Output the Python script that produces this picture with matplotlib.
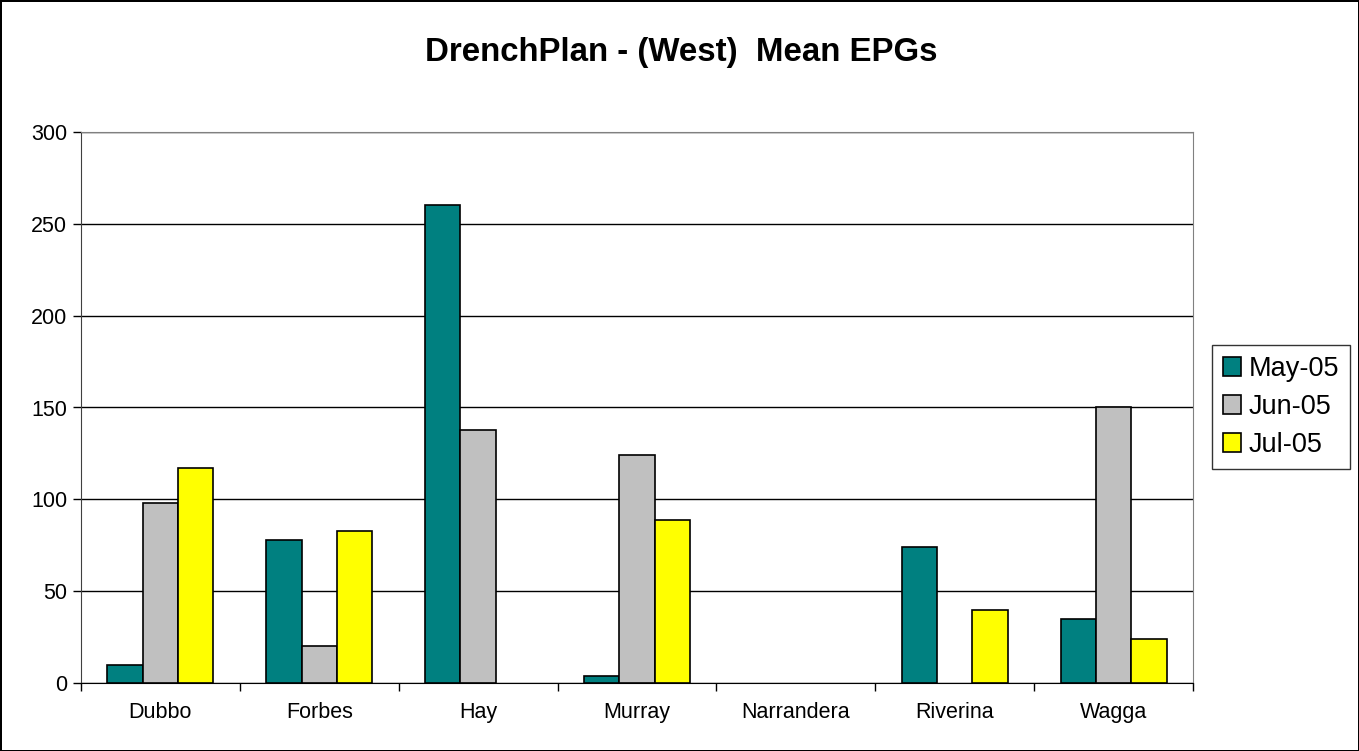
import matplotlib.pyplot as plt
import numpy as np

plt.rcParams['font.family'] = ['Liberation Sans', 'DejaVu Sans']

sites = ['Dubbo', 'Forbes', 'Hay', 'Murray', 'Narrandera', 'Riverina', 'Wagga']
months = ['May-05', 'Jun-05', 'Jul-05']
may_05 = [10, 78, 260, 4, np.nan, 74, 35]
jun_05 = [98, 20, 138, 124, np.nan, np.nan, 150]
jul_05 = [117, 83, np.nan, 89, np.nan, 40, 24]
colors = ['#008080', '#C0C0C0', '#FFFF00']

fig = plt.figure(figsize=(13.59, 7.51), dpi=100)
fig.patch.set_edgecolor('black')
fig.patch.set_linewidth(2)
ax = fig.add_axes([81 / 1359, 1 - 683 / 751, 1112 / 1359, 551 / 751])

x = np.arange(len(sites))
w = 1 / 4.5
for i, (vals, c, lab) in enumerate(zip([may_05, jun_05, jul_05], colors, months)):
    ax.bar(x + (i - 1) * w, vals, width=w, color=c, edgecolor='black',
           linewidth=1.2, label=lab, zorder=3)

ax.set_xlim(-0.5, len(sites) - 0.5)
ax.set_ylim(0, 300)
ax.set_yticks(range(0, 301, 50))
ax.yaxis.grid(True, color='black', linewidth=1, zorder=0)
ax.tick_params(axis='y', labelsize=15.5, length=6, width=1, direction='out', pad=4)
ax.set_xticks(x)
ax.set_xticklabels(sites, fontsize=15.5)
ax.tick_params(axis='x', which='major', length=0, pad=14)
ax.set_xticks(np.arange(-0.5, len(sites)), minor=True)
ax.tick_params(axis='x', which='minor', length=6, width=1, direction='out')
for s in ['top', 'right']:
    ax.spines[s].set_color('#808080')
ax.spines['left'].set_color('#404040')
ax.spines['bottom'].set_color('black')

fig.text(681 / 1359, 1 - 52 / 751, 'DrenchPlan - (West)  Mean EPGs', ha='center',
         va='center', fontsize=23.8, fontweight='bold')

leg = fig.legend(loc='center left', bbox_to_anchor=(1212 / 1359, 1 - 407 / 751),
                 fontsize=19.5, frameon=True, fancybox=False, edgecolor='black',
                 handlelength=0.68, handleheight=0.68, handletextpad=0.28,
                 labelspacing=0.45, borderpad=0.4, borderaxespad=0)
leg.get_frame().set_linewidth(1)

fig.savefig('out.png', dpi=100)
